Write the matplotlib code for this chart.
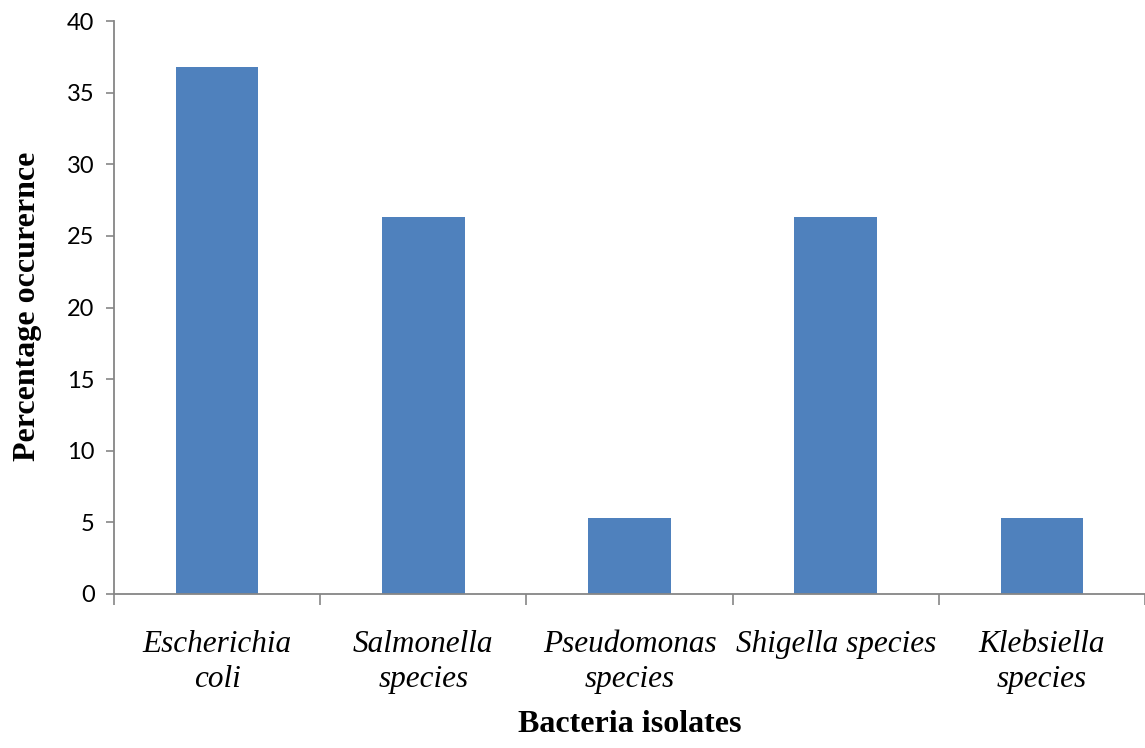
import matplotlib
matplotlib.use("Agg")
import matplotlib.pyplot as plt

# data
isolates = ["Escherichia\ncoli", "Salmonella\nspecies", "Pseudomonas\nspecies",
            "Shigella species", "Klebsiella\nspecies"]
occurrence = [36.8, 26.3, 5.3, 26.3, 5.3]
y_ticks = [0, 5, 10, 15, 20, 25, 30, 35, 40]

bar_color = "#4F81BD"
axis_color = "#868686"

fig = plt.figure(figsize=(11.45, 7.48), dpi=100)
ax = fig.add_axes([0.0996, 0.2059, 0.9004, 0.7660])

x = list(range(len(isolates)))
ax.bar(x, occurrence, width=0.4, color=bar_color, zorder=2)

ax.set_xlim(-0.5, len(isolates) - 0.5)
ax.set_ylim(0, 40)
ax.set_yticks(y_ticks)
ax.set_yticklabels([str(v) for v in y_ticks], fontfamily="Lato", fontsize=17)

# category labels centred under bars, ticks at category boundaries
ax.set_xticks(x)
ax.set_xticklabels(isolates, fontfamily="Liberation Serif", fontstyle="italic",
                   fontsize=22.5, linespacing=1.25)
ax.tick_params(axis="x", which="major", length=0, pad=26)
ax.set_xticks([i - 0.5 for i in range(len(isolates) + 1)], minor=True)
ax.tick_params(axis="x", which="minor", length=8, width=1.2, color=axis_color)
ax.tick_params(axis="y", length=6, width=1.2, color=axis_color, pad=8)

for side in ["top", "right"]:
    ax.spines[side].set_visible(False)
for side in ["left", "bottom"]:
    ax.spines[side].set_color(axis_color)
    ax.spines[side].set_linewidth(1.3)

fig.text(0.55, 0.032, "Bacteria isolates", ha="center", va="center",
         fontfamily="Liberation Serif", fontweight="bold", fontsize=23)
fig.text(0.024, 0.59, "Percentage occurernce", ha="center", va="center",
         rotation=90, fontfamily="Liberation Serif", fontweight="bold", fontsize=23)

fig.savefig("out.png", dpi=100)
